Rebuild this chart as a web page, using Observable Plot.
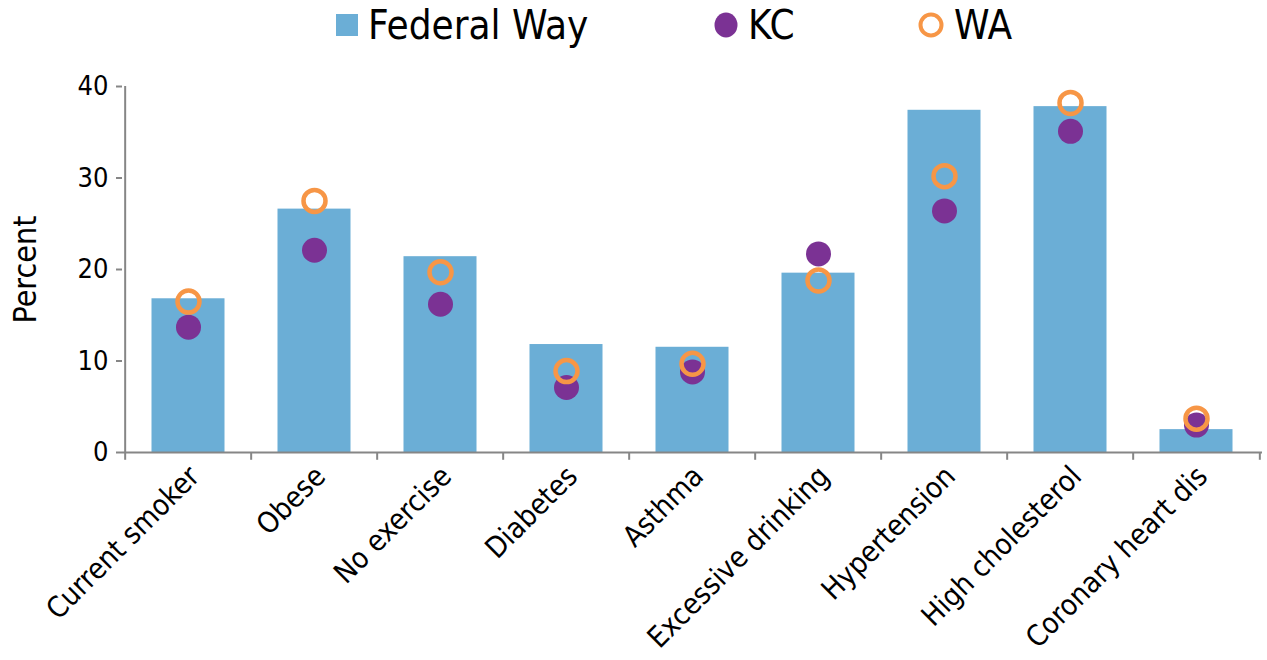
<!DOCTYPE html>
<html>
<head>
<meta charset="utf-8">
<script src="https://cdn.jsdelivr.net/npm/d3@7"></script>
<script src="https://cdn.jsdelivr.net/npm/@observablehq/plot@0.6"></script>
<style>
  html, body { margin: 0; padding: 0; background: #fff; }
  #wrap { position: relative; width: 1267px; height: 660px; font-family: "DejaVu Sans Condensed", "Liberation Sans Narrow", "DejaVu Sans", sans-serif; }
  #legend { position: absolute; left: 0; top: 0; width: 1267px; height: 50px; }
  #legend .item { position: absolute; top: 0; height: 50px; display: flex; align-items: center; font-size: 40px; color: #000; }
  #chart { position: absolute; left: 0; top: 0; }
</style>
</head>
<body>
<div id="wrap">
  <div id="chart"></div>
  <div id="legend"></div>
</div>
<script>
const categories = ["Current smoker", "Obese", "No exercise", "Diabetes", "Asthma", "Excessive drinking", "Hypertension", "High cholesterol", "Coronary heart dis"];
const federalWay = [16.8, 26.6, 21.4, 11.8, 11.5, 19.6, 37.4, 37.8, 2.5];
const kc = [13.7, 22.1, 16.2, 7.1, 8.8, 21.7, 26.4, 35.1, 3.0];
const wa = [16.5, 27.5, 19.7, 8.9, 9.7, 18.8, 30.2, 38.2, 3.7];
const yTicks = [0, 10, 20, 30, 40];
const seriesNames = ["Federal Way", "KC", "WA"];

const barColor = "#6BAED6";
const kcColor = "#7B3294";
const waColor = "#F79646";
const axisColor = "#868686";
const fontFamily = '"DejaVu Sans Condensed", "Liberation Sans Narrow", "DejaVu Sans", sans-serif';

const rows = categories.map((c, i) => ({cat: c, fw: federalWay[i], kc: kc[i], wa: wa[i]}));

const W = 1267, H = 660;
const mL = 122, mR = 5, mT = 86, mB = 208;
const band = (W - mL - mR) / categories.length;

const chart = Plot.plot({
  width: W,
  height: H,
  marginLeft: mL,
  marginRight: mR,
  marginTop: mT,
  marginBottom: mB,
  style: {fontFamily: fontFamily, background: "transparent", overflow: "visible"},
  x: {domain: categories, padding: 0},
  y: {domain: [0, 40]},
  marks: [
    Plot.barY(rows, {x: "cat", y: "fw", fill: barColor, insetLeft: 26.5, insetRight: 26.5}),
    Plot.ruleY([0], {stroke: axisColor, strokeWidth: 2}),
    Plot.ruleX([categories[0]], {x: d => d, y1: 0, y2: 40, dx: -band / 2, stroke: axisColor, strokeWidth: 2}),
    Plot.ruleX(categories, {x: d => d, y1: 0, y2: -0.85, dx: -band / 2, stroke: axisColor, strokeWidth: 2}),
    Plot.ruleX([categories[categories.length - 1]], {x: d => d, y1: 0, y2: -0.85, dx: band / 2, stroke: axisColor, strokeWidth: 2}),
    Plot.dot(rows, {x: "cat", y: "kc", r: 12.5, fill: kcColor, stroke: "none"}),
    Plot.dot(rows, {x: "cat", y: "wa", r: 11, fill: "none", stroke: waColor, strokeWidth: 4.5}),
    Plot.axisY({ticks: yTicks, tickSize: 6, tickPadding: 8, fontSize: 27, stroke: axisColor, color: "#000", label: null, strokeWidth: 2}),
    Plot.axisX({tickSize: 0, tickPadding: 19, dx: 6, tickRotate: -45, fontSize: 29, label: null, color: "#000"}),
    Plot.text(["Percent"], {frameAnchor: "left", textAnchor: "middle", rotate: -90, dx: -97, fontSize: 32, fill: "#000"})
  ]
});
document.getElementById("chart").appendChild(chart);

// Legend
const legend = document.getElementById("legend");
function addItem(left, symbolSvg, label) {
  const d = document.createElement("div");
  d.className = "item";
  d.style.left = left + "px";
  d.innerHTML = symbolSvg + `<span style="margin-left:10px">${label}</span>`;
  legend.appendChild(d);
}
addItem(336, `<svg width="22" height="22"><rect x="0" y="0" width="22" height="22" fill="${barColor}"/></svg>`, seriesNames[0]);
addItem(714, `<svg width="24" height="26"><ellipse cx="12" cy="13" rx="11.5" ry="12.5" fill="${kcColor}"/></svg>`, seriesNames[1]);
addItem(918, `<svg width="26" height="26"><circle cx="13" cy="13" r="10.5" fill="none" stroke="${waColor}" stroke-width="4"/></svg>`, seriesNames[2]);
</script>
</body>
</html>
